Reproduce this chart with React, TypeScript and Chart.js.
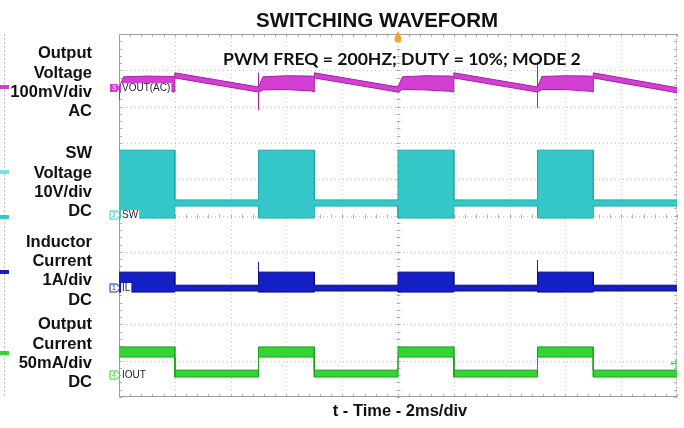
import React, { useEffect, useRef } from 'react';
import { Chart, registerables } from 'chart.js';

Chart.register(...registerables);

// ---- Data (time in divisions, 2 ms/div; vertical position in screen divisions) ----
const xMin = 0;
const xMax = 10;
const yMin = 0;
const yMax = 10;

// Output voltage (AC coupled) envelope
const voutTime = [0, 0.01, 0.08, 0.5, 0.95, 1.0, 1.0, 2.5, 2.5, 2.58, 3.0, 3.45, 3.5, 3.5, 5.0, 5.0, 5.08, 5.5, 5.95, 6.0, 6.0, 7.5, 7.5, 7.58, 8.0, 8.45, 8.5, 8.5, 10];
const voutUpper = [8.45, 8.55, 8.82, 8.84, 8.83, 8.82, 8.93, 8.54, 8.54, 8.82, 8.85, 8.84, 8.82, 8.93, 8.54, 8.54, 8.82, 8.85, 8.84, 8.82, 8.93, 8.54, 8.54, 8.83, 8.85, 8.84, 8.82, 8.93, 8.52];
const voutLower = [8.38, 8.40, 8.48, 8.46, 8.41, 8.40, 8.79, 8.40, 8.40, 8.46, 8.47, 8.43, 8.40, 8.79, 8.40, 8.40, 8.47, 8.46, 8.42, 8.40, 8.79, 8.40, 8.40, 8.47, 8.47, 8.42, 8.40, 8.79, 8.38];
const voutSpikeTime = [0, 2.5, 7.5];
const voutSpikeHigh = [8.5, 8.93, 9.23];
const voutSpikeLow = [8.18, 7.91, 7.96];

// SW voltage envelope
const swTime = [0, 1, 1, 2.5, 2.5, 3.5, 3.5, 5, 5, 6, 6, 7.5, 7.5, 8.5, 8.5, 10];
const swUpper = [6.8, 6.8, 5.43, 5.43, 6.8, 6.8, 5.43, 5.43, 6.8, 6.8, 5.43, 5.43, 6.8, 6.8, 5.43, 5.43];
const swLower = [4.93, 4.93, 5.26, 5.26, 4.93, 4.93, 5.26, 5.26, 4.93, 4.93, 5.26, 5.26, 4.93, 4.93, 5.26, 5.26];

// Inductor current envelope
const ilTime = [0, 1, 1, 2.5, 2.5, 3.5, 3.5, 5, 5, 6, 6, 7.5, 7.5, 8.5, 8.5, 10];
const ilUpper = [3.44, 3.44, 3.08, 3.08, 3.44, 3.44, 3.08, 3.08, 3.44, 3.44, 3.08, 3.08, 3.44, 3.44, 3.08, 3.08];
const ilLower = [2.89, 2.89, 2.92, 2.92, 2.89, 2.89, 2.92, 2.92, 2.89, 2.89, 2.92, 2.92, 2.89, 2.89, 2.92, 2.92];
const ilSpikeTime = [2.5, 7.5];
const ilSpikeHigh = [3.72, 3.77];
const ilSpikeLow = [3.08, 3.08];

// Output current envelope
const ioutTime = [0, 1, 1, 2.5, 2.5, 3.5, 3.5, 5, 5, 6, 6, 7.5, 7.5, 8.5, 8.5, 10];
const ioutUpper = [1.38, 1.38, 0.74, 0.74, 1.38, 1.38, 0.74, 0.74, 1.38, 1.38, 0.74, 0.74, 1.38, 1.38, 0.74, 0.74];
const ioutLower = [1.1, 1.1, 0.55, 0.55, 1.1, 1.1, 0.55, 0.55, 1.1, 1.1, 0.55, 0.55, 1.1, 1.1, 0.55, 0.55];

// Channel markers
const channelNames = ['VOUT(AC)', 'SW', 'IL', 'IOUT'];
const channelNumbers = ['3', '2', '1', '4'];
const channelOffsets = [8.51, 5.01, 3.0, 0.61];
const channelColors = ['#d23fd2', '#36c8c9', '#1420c4', '#34d434'];
const channelEdge = ['#a51fa5', '#1fa9ad', '#0a0a8a', '#1f9f1f'];
const ioutRightMarker = 0.95;

// Texts
const chartTitle = 'SWITCHING WAVEFORM';
const noteText = 'PWM FREQ = 200HZ; DUTY = 10%; MODE 2';
const xAxisTitle = 't - Time - 2ms/div';
const sideLabels = [
  ['Output', 'Voltage', '100mV/div', 'AC'],
  ['SW', 'Voltage', '10V/div', 'DC'],
  ['Inductor', 'Current', '1A/div', 'DC'],
  ['Output', 'Current', '50mA/div', 'DC'],
];

const pts = (ts: number[], vs: number[]) => ts.map((t, i) => ({ x: t, y: vs[i] }));
const spikePts = (ts: number[], hi: number[], lo: number[]) => {
  const out: any[] = [];
  ts.forEach((t, i) => {
    out.push({ x: t, y: hi[i] }, { x: t, y: lo[i] }, { x: t, y: null });
  });
  return out;
};

const band = (name: string, ts: number[], up: number[], lo: number[], fillC: string, edge: string) => [
  { label: name + ' max', data: pts(ts, up), borderColor: edge, backgroundColor: fillC, borderWidth: 1, pointRadius: 0, fill: false, tension: 0 },
  { label: name + ' min', data: pts(ts, lo), borderColor: edge, backgroundColor: fillC, borderWidth: 1, pointRadius: 0, fill: '-1', tension: 0 },
];

const FONT = '"Liberation Sans", Arial, sans-serif';

const overlay = {
  id: 'scopeOverlay',
  beforeDatasetsDraw(chart: any) {
    const { ctx, chartArea, scales } = chart;
    const { left, right, top, bottom } = chartArea;
    const xs = scales.x;
    const ys = scales.y;
    const line = (a: number, b: number, c: number, d: number) => {
      ctx.beginPath();
      ctx.moveTo(a, b);
      ctx.lineTo(c, d);
      ctx.stroke();
    };
    ctx.save();
    ctx.lineWidth = 1;
    ctx.strokeStyle = '#c4c4c4';
    ctx.setLineDash([1, 3]);
    for (let i = xMin + 1; i < xMax; i++) {
      const px = Math.round(xs.getPixelForValue(i)) + 0.5;
      line(px, top, px, bottom);
    }
    for (let i = yMin + 1; i < yMax; i++) {
      const py = Math.round(ys.getPixelForValue(i)) + 0.5;
      line(left, py, right, py);
    }
    ctx.setLineDash([]);
    ctx.strokeStyle = '#b0b0b0';
    const cx = Math.round(xs.getPixelForValue((xMin + xMax) / 2)) + 0.5;
    const cy = Math.round(ys.getPixelForValue((yMin + yMax) / 2)) + 0.5;
    for (let k = 0; k <= (xMax - xMin) * 5; k++) {
      const px = Math.round(xs.getPixelForValue(xMin + k / 5)) + 0.5;
      line(px, cy - 2, px, cy + 2);
      line(px, top, px, top + 3);
      line(px, bottom - 3, px, bottom);
    }
    for (let k = 0; k <= (yMax - yMin) * 5; k++) {
      const py = Math.round(ys.getPixelForValue(yMin + k / 5)) + 0.5;
      line(cx - 2, py, cx + 2, py);
      line(left, py, left + 3, py);
      line(right - 3, py, right, py);
    }
    const L = Math.round(left) + 0.5, R = Math.round(right) - 0.5, T = Math.round(top) + 0.5, B = Math.round(bottom) - 0.5;
    ctx.strokeStyle = '#9c9c9c';
    line(L, T, R, T);
    line(L, T, L, B);
    line(L, B, R, B);
    ctx.setLineDash([2, 2]);
    ctx.strokeStyle = '#b4b4b4';
    line(R, T, R, B);
    ctx.restore();
  },
  afterDatasetsDraw(chart: any) {
    const { ctx, chartArea, scales } = chart;
    const { left, right, top } = chartArea;
    const ys = scales.y;
    const xs = scales.x;
    ctx.save();
    // channel tags
    channelNames.forEach((name, i) => {
      const py = Math.round(ys.getPixelForValue(channelOffsets[i]));
      ctx.beginPath();
      ctx.moveTo(left - 9, py - 4);
      ctx.lineTo(left - 2, py - 4);
      ctx.lineTo(left + 1, py);
      ctx.lineTo(left - 2, py + 4);
      ctx.lineTo(left - 9, py + 4);
      ctx.closePath();
      if (i === 0) {
        ctx.fillStyle = channelColors[i];
        ctx.fill();
      } else {
        ctx.fillStyle = '#ffffff';
        ctx.fill();
        ctx.strokeStyle = channelColors[i];
        ctx.lineWidth = 1;
        ctx.stroke();
      }
      ctx.font = '7px ' + FONT;
      ctx.textAlign = 'center';
      ctx.textBaseline = 'middle';
      ctx.fillStyle = i === 0 ? '#ffffff' : channelColors[i];
      ctx.fillText(channelNumbers[i], left - 5, py + 0.5);
      ctx.font = '10px ' + FONT;
      ctx.textAlign = 'left';
      const w = ctx.measureText(name).width;
      ctx.fillStyle = '#ffffff';
      ctx.fillRect(left + 2, py - 5, w + 2, 10);
      ctx.fillStyle = '#222222';
      ctx.fillText(name, left + 3, py + 0.5);
    });
    // small IOUT level arrow at right edge
    const ay = Math.round(ys.getPixelForValue(ioutRightMarker)) + 0.5;
    ctx.strokeStyle = channelColors[3];
    ctx.lineWidth = 1;
    ctx.beginPath();
    ctx.moveTo(right - 1, ay - 5);
    ctx.lineTo(right - 1, ay + 5);
    ctx.moveTo(right - 6, ay);
    ctx.lineTo(right - 1, ay);
    ctx.moveTo(right - 4, ay - 2);
    ctx.lineTo(right - 6, ay);
    ctx.lineTo(right - 4, ay + 2);
    ctx.stroke();
    // trigger marker
    const tx = Math.round(xs.getPixelForValue((xMin + xMax) / 2));
    ctx.fillStyle = '#f3a52b';
    ctx.beginPath();
    ctx.arc(tx, top + 5, 3.5, 0, Math.PI * 2);
    ctx.fill();
    ctx.beginPath();
    ctx.moveTo(tx - 3, top + 3);
    ctx.lineTo(tx, top - 3);
    ctx.lineTo(tx + 3, top + 3);
    ctx.closePath();
    ctx.fill();
    ctx.restore();
  },
  afterDraw(chart: any) {
    const { ctx, chartArea } = chart;
    const { top, bottom } = chartArea;
    ctx.save();
    // fragment of neighbouring trace at the far left
    ctx.strokeStyle = '#bdbdbd';
    ctx.lineWidth = 1;
    ctx.setLineDash([2, 2]);
    ctx.beginPath();
    ctx.moveTo(4.5, top);
    ctx.lineTo(4.5, bottom);
    ctx.stroke();
    ctx.setLineDash([]);
    const stripMarks: [number, string][] = [[87, '#d23fd2'], [172, '#7fdede'], [217, '#36c8c9'], [272, '#1420c4'], [353, '#34d434']];
    stripMarks.forEach(([py, c]) => {
      ctx.fillStyle = c;
      ctx.fillRect(0, py - 2, 9, 4);
    });

    ctx.fillStyle = '#111111';
    ctx.textBaseline = 'alphabetic';
    ctx.font = 'bold 20.5px ' + FONT;
    ctx.textAlign = 'left';
    ctx.fillText(chartTitle, 256, 27);
    let fs = 18;
    ctx.font = `bold ${fs}px Lato, "Open Sans", sans-serif`;
    const mw = ctx.measureText(noteText).width;
    fs = (fs * 358) / mw;
    ctx.font = `bold ${fs.toFixed(2)}px Lato, "Open Sans", sans-serif`;
    ctx.fillText(noteText, 223, 65);
    ctx.font = 'bold 16.5px ' + FONT;
    ctx.textAlign = 'right';
    const groupStart = [58.3, 158.3, 246.7, 329.3];
    sideLabels.forEach((lines, g) => {
      lines.forEach((t, j) => {
        ctx.fillText(t, 92, groupStart[g] + j * 19.3);
      });
    });
    ctx.font = 'bold 16.5px ' + FONT;
    ctx.textAlign = 'center';
    ctx.fillText(xAxisTitle, 400, 416);
    ctx.restore();
  },
};

export default function App() {
  const ref = useRef<HTMLCanvasElement | null>(null);
  useEffect(() => {
    if (!ref.current) return;
    const datasets: any[] = [
      ...band('VOUT', voutTime, voutUpper, voutLower, channelColors[0], channelEdge[0]),
      { label: 'VOUT spikes', data: spikePts(voutSpikeTime, voutSpikeHigh, voutSpikeLow), borderColor: channelEdge[0], borderWidth: 1, pointRadius: 0, fill: false, spanGaps: false },
      ...band('SW', swTime, swUpper, swLower, channelColors[1], channelEdge[1]),
      ...band('IL', ilTime, ilUpper, ilLower, channelColors[2], channelEdge[2]),
      { label: 'IL spikes', data: spikePts(ilSpikeTime, ilSpikeHigh, ilSpikeLow), borderColor: channelColors[2], borderWidth: 1, pointRadius: 0, fill: false, spanGaps: false },
      ...band('IOUT', ioutTime, ioutUpper, ioutLower, channelColors[3], channelEdge[3]),
    ];
    const chart = new Chart(ref.current, {
      type: 'line',
      data: { datasets },
      options: {
        animation: false,
        responsive: false,
        devicePixelRatio: 1,
        layout: { padding: { left: 119, right: 7, top: 34, bottom: 31 } },
        scales: {
          x: { type: 'linear', min: xMin, max: xMax, display: false },
          y: { type: 'linear', min: yMin, max: yMax, display: false },
        },
        plugins: {
          legend: { display: false },
          tooltip: { enabled: false },
          title: { display: false },
        },
        elements: { line: { borderJoinStyle: 'miter' } },
      },
      plugins: [overlay],
    } as any);
    return () => chart.destroy();
  }, []);
  return (
    <div style={{ position: 'absolute', left: 0, top: 0, width: 684, height: 428, background: '#ffffff' }}>
      <canvas ref={ref} width={684} height={428} />
    </div>
  );
}
